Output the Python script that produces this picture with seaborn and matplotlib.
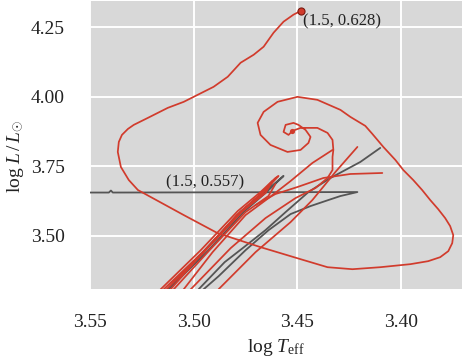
import numpy as np
import pandas as pd
import matplotlib
matplotlib.use("Agg")
import matplotlib.pyplot as plt
import seaborn as sns

# ---------------- data (log Teff, log L) ----------------
# main red track: arm from the bundle, spiral, big loop, final rise
red_main_T = [3.5034, 3.5014, 3.4822, 3.4654, 3.4509, 3.4413, 3.4355, 3.4331, 3.4331, 3.4327,
              3.4331, 3.4355, 3.4404, 3.4485, 3.4524, 3.4543, 3.4567, 3.4557, 3.4519, 3.4495,
              3.4461, 3.4437, 3.4447, 3.4485, 3.4548, 3.4630, 3.4678, 3.4692, 3.4663, 3.4596,
              3.4500, 3.4404, 3.4293, 3.4245, 3.4173, 3.4139, 3.4086, 3.4028, 3.3990, 3.3942,
              3.3899, 3.3860, 3.3822, 3.3788, 3.3764, 3.3749, 3.3754, 3.3773, 3.3812, 3.3870,
              3.3956, 3.4101, 3.4235, 3.4355, 3.4485, 3.4678, 3.4885, 3.5048, 3.5207, 3.5269,
              3.5313, 3.5351, 3.5366, 3.5361, 3.5346, 3.5317, 3.5289, 3.5221, 3.5125, 3.5048,
              3.4981, 3.4904, 3.4836, 3.4774, 3.4711, 3.4663, 3.4615, 3.4567, 3.4519, 3.4481]
red_main_L = [3.2676, 3.3073, 3.4552, 3.5634, 3.6356, 3.6717, 3.7078, 3.7366, 3.7835, 3.8088,
              3.8449, 3.8701, 3.8882, 3.8882, 3.8773, 3.8629, 3.8737, 3.8990, 3.9062, 3.8990,
              3.8809, 3.8557, 3.8340, 3.8088, 3.8016, 3.8268, 3.8629, 3.9062, 3.9459, 3.9820,
              4.0000, 3.9892, 3.9531, 3.9278, 3.8954, 3.8665, 3.8196, 3.7727, 3.7366, 3.7005,
              3.6645, 3.6284, 3.5959, 3.5634, 3.5346, 3.5021, 3.4732, 3.4444, 3.4227, 3.4083,
              3.3975, 3.3866, 3.3794, 3.3866, 3.4155, 3.4588, 3.5093, 3.5743, 3.6392, 3.6645,
              3.7005, 3.7474, 3.8016, 3.8376, 3.8629, 3.8845, 3.8990, 3.9242, 3.9603, 3.9820,
              4.0072, 4.0361, 4.0722, 4.1227, 4.1515, 4.1804, 4.2309, 4.2706, 4.2959, 4.3103]

# red zig-zag along the dense diagonal bundle
red_bundle_T = [3.5197, 3.5159, 3.4966, 3.4788, 3.4678, 3.4606, 3.4591, 3.4668, 3.4774, 3.4952,
                3.5144, 3.5178, 3.5168, 3.5130, 3.4942, 3.4764, 3.4654, 3.4620, 3.4687, 3.4793,
                3.4966, 3.5111, 3.5135, 3.5116, 3.5096, 3.4928, 3.4750, 3.4640, 3.4606]
red_bundle_L = [3.2676, 3.3073, 3.4480, 3.5887, 3.6572, 3.7078, 3.7150, 3.6536, 3.5851, 3.4444,
                3.3073, 3.2676, 3.2676, 3.3073, 3.4480, 3.5887, 3.6536, 3.6969, 3.6428, 3.5743,
                3.4299, 3.3073, 3.2676, 3.2676, 3.3073, 3.4444, 3.5851, 3.6428, 3.6860]

red_c_T = [3.5072, 3.5048, 3.4909, 3.4750, 3.4639, 3.4533, 3.4428, 3.4331]
red_c_L = [3.2676, 3.3073, 3.4408, 3.5743, 3.6356, 3.6969, 3.7619, 3.8088]

red_d_T = [3.4904, 3.4880, 3.4702, 3.4533, 3.4428, 3.4317, 3.4211]
red_d_L = [3.2676, 3.3073, 3.4408, 3.5490, 3.6284, 3.7294, 3.8196]

red_e_T = [3.4702, 3.4606, 3.4500, 3.4375, 3.4245, 3.4091]
red_e_L = [3.6103, 3.6500, 3.6753, 3.7078, 3.7222, 3.7258]

# gray track
gray_a_T = [3.5519, 3.5409, 3.5399, 3.5390, 3.4211, 3.4293, 3.4351, 3.4437, 3.4533, 3.4639,
            3.4750, 3.4880, 3.4952, 3.5005]
gray_a_L = [3.6554, 3.6554, 3.6626, 3.6554, 3.6572, 3.6428, 3.6284, 3.6067, 3.5779, 3.5201,
            3.4480, 3.3542, 3.3073, 3.2676]

gray_b_T = [3.5005, 3.4976, 3.4851, 3.4764, 3.4654, 3.4557, 3.4447, 3.4341, 3.4197, 3.4101]
gray_b_L = [3.2676, 3.3073, 3.4047, 3.4552, 3.5201, 3.5851, 3.6572, 3.7078, 3.7655, 3.8160]

gray_c_T = [3.5159, 3.5125, 3.4947, 3.4774, 3.4658, 3.4567, 3.4649, 3.4760, 3.4933, 3.5120, 3.5149]
gray_c_L = [3.2676, 3.3073, 3.4480, 3.5869, 3.6572, 3.7150, 3.6572, 3.5851, 3.4444, 3.3073, 3.2676]

end_red = (3.4481, 4.3103)
spiral_center = (3.4524, 3.8773)
label_red = "(1.5, 0.628)"
label_gray = "(1.5, 0.557)"
label_gray_pos = (3.5135, 3.664)

x_ticks = [3.55, 3.50, 3.45, 3.40]
y_ticks = [3.50, 3.75, 4.00, 4.25]

RED = "#d13b2c"
GRAY = "#555555"

# ---------------- style ----------------
sns.set_theme(style="darkgrid", rc={
    "axes.facecolor": "#d8d8d8",
    "grid.color": "white",
    "grid.linewidth": 1.4,
    "axes.edgecolor": "white",
})
plt.rcParams["font.family"] = ["Liberation Serif", "DejaVu Serif"]
plt.rcParams["mathtext.fontset"] = "custom"
plt.rcParams["mathtext.rm"] = "Liberation Serif"
plt.rcParams["mathtext.it"] = "Liberation Serif:italic"
plt.rcParams["mathtext.bf"] = "Liberation Serif:bold"
plt.rcParams["text.color"] = "#222222"
plt.rcParams["axes.labelcolor"] = "#222222"
plt.rcParams["xtick.color"] = "#222222"
plt.rcParams["ytick.color"] = "#222222"


def seg_frame(segs):
    frames = []
    for name, (t, l) in segs.items():
        frames.append(pd.DataFrame({"logT": t, "logL": l, "seg": name}))
    return pd.concat(frames, ignore_index=True)


gray_df = seg_frame({"a": (gray_a_T, gray_a_L), "b": (gray_b_T, gray_b_L),
                     "c": (gray_c_T, gray_c_L)})
red_df = seg_frame({"main": (red_main_T, red_main_L), "bundle": (red_bundle_T, red_bundle_L),
                    "c": (red_c_T, red_c_L), "d": (red_d_T, red_d_L), "e": (red_e_T, red_e_L)})

fig, ax = plt.subplots(figsize=(4.65, 3.63), dpi=100)
fig.subplots_adjust(left=0.1935, right=0.9935, bottom=0.203, top=0.998)

sns.lineplot(data=gray_df, x="logT", y="logL", units="seg", estimator=None, sort=False,
             color=GRAY, lw=1.3, ax=ax)
sns.lineplot(data=red_df, x="logT", y="logL", units="seg", estimator=None, sort=False,
             color=RED, lw=1.25, ax=ax)

sns.scatterplot(x=[spiral_center[0]], y=[spiral_center[1]], color=RED, s=14,
                linewidth=0, ax=ax, zorder=5)
sns.scatterplot(x=[end_red[0]], y=[end_red[1]], color=RED, s=26, edgecolor="#7a1a10",
                linewidth=0.8, ax=ax, zorder=6)

ax.annotate(label_red, xy=end_red, xytext=(1.5, -2), textcoords="offset points",
            ha="left", va="top", fontsize=12)
ax.text(label_gray_pos[0], label_gray_pos[1], label_gray, ha="left", va="bottom", fontsize=12)

ax.set_xlim(3.55, 3.3707)
ax.set_ylim(3.307, 4.346)
ax.set_xticks(x_ticks)
ax.set_yticks(y_ticks)
ax.set_xticklabels([f"{v:.2f}" for v in x_ticks])
ax.set_yticklabels([f"{v:.2f}" for v in y_ticks])
ax.tick_params(axis="both", length=0, pad=18, labelsize=14)
ax.set_xlabel(r"$\log\,T_{\mathrm{eff}}$", fontsize=14, labelpad=4)
ax.set_ylabel(r"$\log\,L\,/\,L_{\odot}$", fontsize=14)
ax.yaxis.set_label_coords(-0.172, 0.462)
for s in ax.spines.values():
    s.set_visible(False)

fig.savefig("out.png", dpi=100)
